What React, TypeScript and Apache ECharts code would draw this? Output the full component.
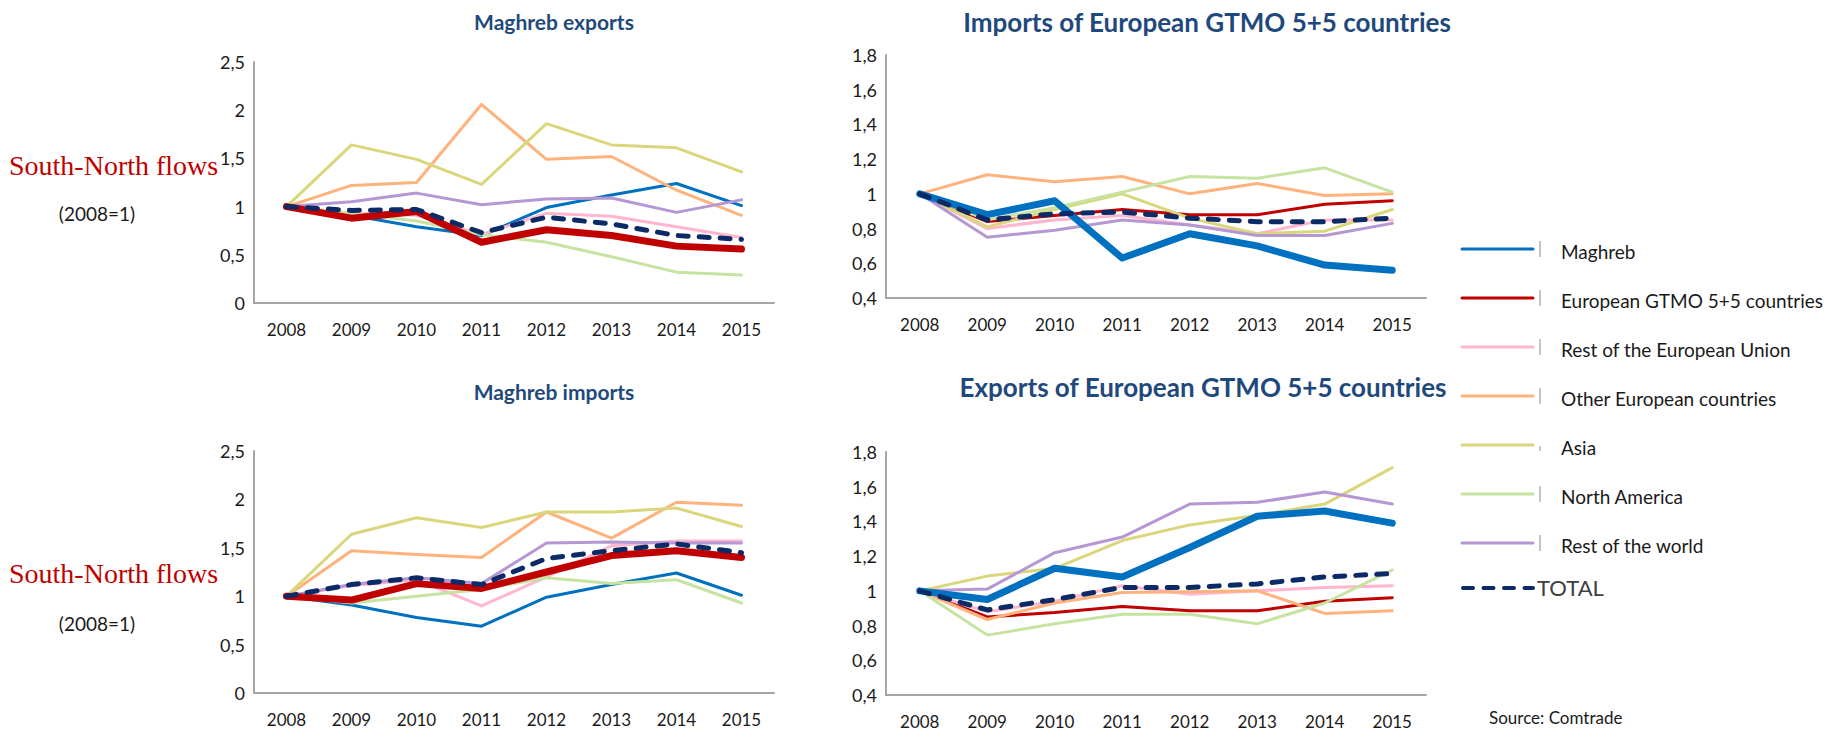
import React, { useEffect, useRef } from 'react';
import * as echarts from 'echarts';

const years = ['2008', '2009', '2010', '2011', '2012', '2013', '2014', '2015'];

const seriesNames = [
  'Maghreb',
  'European GTMO 5+5 countries',
  'Rest of the European Union',
  'Other European countries',
  'Asia',
  'North America',
  'Rest of the world',
  'TOTAL',
];

// Maghreb exports
const mxMaghreb = [1, 0.91, 0.79, 0.7, 0.99, 1.12, 1.24, 1.01];
const mxEurope55 = [1, 0.88, 0.95, 0.63, 0.76, 0.7, 0.59, 0.56];
const mxRestEU = [1, 0.93, 0.91, 0.71, 0.93, 0.9, 0.79, 0.68];
const mxOtherEur = [1, 1.22, 1.25, 2.06, 1.49, 1.52, 1.17, 0.91];
const mxAsia = [1, 1.64, 1.49, 1.23, 1.86, 1.64, 1.61, 1.36];
const mxNorthAm = [1, 0.93, 0.85, 0.71, 0.63, 0.48, 0.32, 0.29];
const mxRestWorld = [1, 1.05, 1.14, 1.02, 1.08, 1.09, 0.94, 1.07];
const mxTotal = [1, 0.96, 0.97, 0.73, 0.89, 0.82, 0.7, 0.66];

// Imports of European GTMO 5+5 countries
const eiMaghreb = [1, 0.88, 0.96, 0.63, 0.77, 0.7, 0.59, 0.56];
const eiEurope55 = [1, 0.84, 0.875, 0.91, 0.88, 0.88, 0.94, 0.96];
const eiRestEU = [1, 0.8, 0.85, 0.875, 0.82, 0.77, 0.85, 0.85];
const eiOtherEur = [1, 1.11, 1.07, 1.1, 1.0, 1.06, 0.99, 1.0];
const eiAsia = [1, 0.81, 0.91, 1.0, 0.86, 0.77, 0.785, 0.91];
const eiNorthAm = [1, 0.85, 0.92, 1.01, 1.1, 1.09, 1.15, 1.01];
const eiRestWorld = [1, 0.75, 0.79, 0.85, 0.82, 0.76, 0.76, 0.83];
const eiTotal = [1, 0.85, 0.885, 0.895, 0.86, 0.84, 0.84, 0.86];

// Maghreb imports
const miMaghreb = [1, 0.91, 0.78, 0.69, 0.99, 1.12, 1.24, 1.01];
const miEurope55 = [1, 0.96, 1.13, 1.08, 1.25, 1.42, 1.47, 1.4];
const miRestEU = [1, 1.11, 1.17, 0.9, 1.2, 1.52, 1.57, 1.57];
const miOtherEur = [1, 1.47, 1.43, 1.4, 1.87, 1.6, 1.97, 1.94];
const miAsia = [1, 1.64, 1.81, 1.71, 1.87, 1.87, 1.91, 1.72];
const miNorthAm = [1, 0.93, 1.0, 1.07, 1.19, 1.13, 1.17, 0.93];
const miRestWorld = [1, 1.12, 1.19, 1.13, 1.55, 1.56, 1.55, 1.55];
const miTotal = [1, 1.12, 1.19, 1.12, 1.39, 1.47, 1.54, 1.45];

// Exports of European GTMO 5+5 countries
const eeMaghreb = [1, 0.95, 1.13, 1.08, 1.25, 1.43, 1.46, 1.39];
const eeEurope55 = [1, 0.85, 0.875, 0.91, 0.885, 0.885, 0.94, 0.96];
const eeRestEU = [1, 0.88, 0.94, 1.03, 0.98, 1.0, 1.02, 1.03];
const eeOtherEur = [1, 0.835, 0.93, 0.99, 0.995, 1.0, 0.87, 0.885];
const eeAsia = [1, 1.085, 1.13, 1.29, 1.38, 1.435, 1.5, 1.71];
const eeNorthAm = [1, 0.745, 0.81, 0.865, 0.865, 0.81, 0.93, 1.12];
const eeRestWorld = [1, 1.01, 1.22, 1.31, 1.5, 1.51, 1.57, 1.5];
const eeTotal = [1, 0.89, 0.95, 1.02, 1.02, 1.04, 1.08, 1.1];

const colors = ['#0070C0', '#C00000', '#FFB6CE', '#FFB27C', '#DAD67C', '#C7E3A2', '#B497D3', '#0B2A66'];

const panels = [
  {
    title: 'Maghreb exports',
    data: [mxMaghreb, mxEurope55, mxRestEU, mxOtherEur, mxAsia, mxNorthAm, mxRestWorld, mxTotal],
    thick: 1,
    grid: { left: 254, top: 62, width: 520, height: 241 },
    min: 0, max: 2.5, interval: 0.5,
    tx: 549, ty: 6, tsize: 21,
  },
  {
    title: 'Imports of European GTMO 5+5 countries',
    data: [eiMaghreb, eiEurope55, eiRestEU, eiOtherEur, eiAsia, eiNorthAm, eiRestWorld, eiTotal],
    thick: 0,
    grid: { left: 886, top: 55, width: 540, height: 243 },
    min: 0.4, max: 1.8, interval: 0.2,
    tx: 1202, ty: 4, tsize: 26,
  },
  {
    title: 'Maghreb imports',
    data: [miMaghreb, miEurope55, miRestEU, miOtherEur, miAsia, miNorthAm, miRestWorld, miTotal],
    thick: 1,
    grid: { left: 254, top: 451, width: 520, height: 242 },
    min: 0, max: 2.5, interval: 0.5,
    tx: 549, ty: 376, tsize: 21,
  },
  {
    title: 'Exports of European GTMO 5+5 countries',
    data: [eeMaghreb, eeEurope55, eeRestEU, eeOtherEur, eeAsia, eeNorthAm, eeRestWorld, eeTotal],
    thick: 0,
    grid: { left: 886, top: 452, width: 540, height: 243 },
    min: 0.4, max: 1.8, interval: 0.2,
    tx: 1198, ty: 369, tsize: 26,
  },
];

const FONT = "Lato, 'Open Sans', sans-serif";

function fmt(v: number) {
  return String(Number(v.toFixed(1))).replace('.', ',');
}

export default function App() {
  const ref = useRef<HTMLDivElement>(null);

  useEffect(() => {
    if (!ref.current) return;
    const chart = echarts.init(ref.current, undefined, { renderer: 'svg' });

    const series: any[] = [];
    panels.forEach((p, i) => {
      p.data.forEach((d, j) => {
        const isTotal = j === 7;
        const isThick = j === p.thick;
        series.push({
          type: 'line',
          name: seriesNames[j],
          xAxisIndex: i,
          yAxisIndex: i,
          data: d,
          symbol: 'none',
          silent: true,
          z: isTotal ? 6 : isThick ? 4 : 2,
          lineStyle: {
            color: colors[j],
            width: isTotal ? 5 : isThick ? 7 : 3,
            type: isTotal ? [10, 11] : 'solid',
            cap: 'round',
            join: 'round',
          },
        });
      });
    });

    const legendRows = [249, 298, 347, 396, 445, 494, 543];
    const graphic: any[] = [];
    legendRows.forEach((y, k) => {
      graphic.push({
        type: 'line',
        shape: { x1: 1462, y1: y, x2: 1533, y2: y },
        style: { stroke: colors[k], lineWidth: 3, lineCap: 'round' },
      });
      graphic.push({
        type: 'line',
        shape: { x1: 1540, y1: k === 4 ? y + 1 : y - 8, x2: 1540, y2: k === 4 ? y + 6 : y + 8 },
        style: { stroke: '#8c8c8c', lineWidth: 1 },
      });
      graphic.push({
        type: 'text',
        x: 1561,
        y: y + 2,
        style: {
          text: seriesNames[k],
          fontSize: 19,
          fontFamily: FONT,
          fill: '#1a1a1a',
          textVerticalAlign: 'middle',
          verticalAlign: 'middle',
        },
      });
    });
    graphic.push({
      type: 'line',
      shape: { x1: 1463, y1: 588, x2: 1533, y2: 588 },
      style: { stroke: colors[7], lineWidth: 4, lineDash: [10, 10.5], lineCap: 'round' },
    });
    graphic.push({
      type: 'text',
      x: 1537,
      y: 587,
      style: {
        text: 'TOTAL',
        fontSize: 22,
        fontFamily: FONT,
        fill: '#404040',
        textVerticalAlign: 'middle',
        verticalAlign: 'middle',
      },
    });
    graphic.push({
      type: 'text',
      x: 1489,
      y: 717,
      style: {
        text: 'Source: Comtrade',
        fontSize: 17,
        fontFamily: FONT,
        fill: '#1a1a1a',
        textVerticalAlign: 'middle',
        verticalAlign: 'middle',
      },
    });
    [165, 573].forEach((y) => {
      graphic.push({
        type: 'text',
        x: 9,
        y,
        style: {
          text: 'South-North flows',
          fontSize: 28,
          fontFamily: "'Liberation Serif', 'DejaVu Serif', serif",
          fill: '#C00000',
          textVerticalAlign: 'middle',
          verticalAlign: 'middle',
        },
      });
    });
    [213, 623].forEach((y) => {
      graphic.push({
        type: 'text',
        x: 97,
        y,
        style: {
          text: '(2008=1)',
          fontSize: 19,
          fontFamily: FONT,
          fill: '#1a1a1a',
          textAlign: 'center',
          align: 'center',
          textVerticalAlign: 'middle',
          verticalAlign: 'middle',
        },
      });
    });

    chart.setOption({
      animation: false,
      backgroundColor: '#ffffff',
      title: panels.map((p) => ({
        text: p.title,
        left: p.tx,
        top: p.ty,
        textAlign: 'center',
        textStyle: { color: '#1F497D', fontSize: p.tsize, fontWeight: 'bold', fontFamily: FONT },
      })),
      grid: panels.map((p) => ({ ...p.grid, containLabel: false })),
      xAxis: panels.map((_, i) => ({
        type: 'category',
        gridIndex: i,
        data: years,
        boundaryGap: true,
        axisLine: { show: true, lineStyle: { color: '#A6A6A6', width: 2 } },
        axisTick: { show: false },
        axisLabel: { color: '#1a1a1a', fontSize: 17, fontFamily: FONT, margin: 18 },
        splitLine: { show: false },
      })),
      yAxis: panels.map((p, i) => ({
        type: 'value',
        gridIndex: i,
        min: p.min,
        max: p.max,
        interval: p.interval,
        axisLine: { show: true, lineStyle: { color: '#A6A6A6', width: 2 } },
        axisTick: { show: false },
        splitLine: { show: false },
        axisLabel: { color: '#1a1a1a', fontSize: 18, fontFamily: FONT, margin: 9, formatter: fmt },
      })),
      series,
      graphic,
    });

    return () => chart.dispose();
  }, []);

  return (
    <div
      ref={ref}
      style={{ position: 'fixed', left: 0, top: 0, width: 1831, height: 731, background: '#fff' }}
    />
  );
}
